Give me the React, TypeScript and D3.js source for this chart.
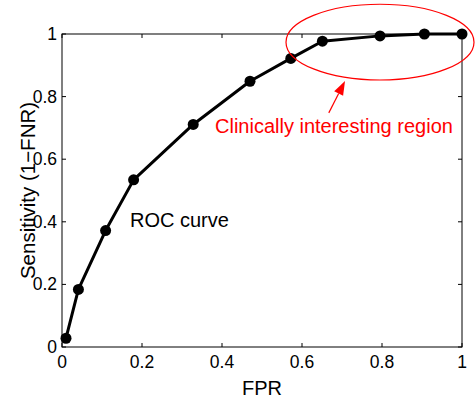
import React from "react";
import * as d3 from "d3";

const fpr = [0.01, 0.041, 0.109, 0.179, 0.328, 0.47, 0.572, 0.651, 0.795, 0.906, 1.0];
const tpr = [0.028, 0.184, 0.372, 0.534, 0.711, 0.849, 0.922, 0.977, 0.994, 1.0, 1.0];
const xTicks = [0, 0.2, 0.4, 0.6, 0.8, 1];
const yTicks = [0, 0.2, 0.4, 0.6, 0.8, 1];
const xLabel = "FPR";
const yLabel = "Sensitivity (1\u2212FNR)";
const curveLabel = "ROC curve";
const regionLabel = "Clinically interesting region";
const regionEllipse = { cx: 0.795, cy: 0.974, rx: 0.235, ry: 0.121 };
const arrowFrom = [0.667, 0.748];
const arrowTo = [0.7075, 0.85];

const W = 475, H = 401;
const M = { left: 62, right: 13, top: 34, bottom: 54 };
const FONT = "'Liberation Sans', Arial, Helvetica, sans-serif";

const fmt = (v: number) => String(v);

export default function App() {
  const x = d3.scaleLinear().domain([0, 1]).range([M.left, W - M.right]);
  const y = d3.scaleLinear().domain([0, 1]).range([H - M.bottom, M.top]);
  const pts = fpr.map((v, i) => [v, tpr[i]] as [number, number]);
  const line = d3.line<[number, number]>().x(d => x(d[0])).y(d => y(d[1]));
  const x0 = x(0), x1 = x(1), y0 = y(0), y1 = y(1);
  const tl = 4;

  const ax = x(arrowFrom[0]), ay = y(arrowFrom[1]);
  const bx = x(arrowTo[0]), by = y(arrowTo[1]);
  const ang = Math.atan2(by - ay, bx - ax);
  const hl = 14, hw = 5;
  const baseX = bx - hl * Math.cos(ang), baseY = by - hl * Math.sin(ang);
  const px = -Math.sin(ang), py = Math.cos(ang);
  const head = `M${bx},${by}L${baseX + hw * px},${baseY + hw * py}L${baseX - hw * px},${baseY - hw * py}Z`;

  return (
    <svg width={W} height={H} style={{ position: "absolute", left: 0, top: 0, background: "#fff" }} fontFamily={FONT}>
      <rect x={0} y={0} width={W} height={H} fill="#fff" />
      <rect x={x0} y={y1} width={x1 - x0} height={y0 - y1} fill="none" stroke="#000" strokeWidth={1} />
      {xTicks.map(t => (
        <g key={"xt" + t}>
          <line x1={x(t)} x2={x(t)} y1={y0} y2={y0 - tl} stroke="#000" />
          <line x1={x(t)} x2={x(t)} y1={y1} y2={y1 + tl} stroke="#000" />
          <text x={x(t)} y={y0 + 21} fontSize={17.5} textAnchor="middle">{fmt(t)}</text>
        </g>
      ))}
      {yTicks.map(t => (
        <g key={"yt" + t}>
          <line x1={x0} x2={x0 + tl} y1={y(t)} y2={y(t)} stroke="#000" />
          <line x1={x1} x2={x1 - tl} y1={y(t)} y2={y(t)} stroke="#000" />
          <text x={x0 - 5} y={y(t) + 6} fontSize={17.5} textAnchor="end">{fmt(t)}</text>
        </g>
      ))}
      <text x={(x0 + x1) / 2} y={H - 6} fontSize={20} textAnchor="middle">{xLabel}</text>
      <text transform={`translate(35,${(y0 + y1) / 2}) rotate(-90)`} fontSize={20.5} textAnchor="middle">{yLabel}</text>
      <path d={line(pts) || ""} fill="none" stroke="#000" strokeWidth={3} strokeLinejoin="round" />
      {pts.map((p, i) => (
        <circle key={i} cx={x(p[0])} cy={y(p[1])} r={5.5} fill="#000" />
      ))}
      <text x={x(0.17)} y={y(0.384)} fontSize={20}>{curveLabel}</text>
      <ellipse cx={x(regionEllipse.cx)} cy={y(regionEllipse.cy)}
        rx={x(regionEllipse.rx) - x(0)} ry={y(0) - y(regionEllipse.ry)}
        fill="none" stroke="#ff0000" strokeWidth={1.2} />
      <line x1={ax} y1={ay} x2={baseX} y2={baseY} stroke="#ff0000" strokeWidth={1.2} />
      <path d={head} fill="#ff0000" />
      <text x={x(0.3825)} y={y(0.684)} fontSize={20} fill="#ff0000">{regionLabel}</text>
    </svg>
  );
}
